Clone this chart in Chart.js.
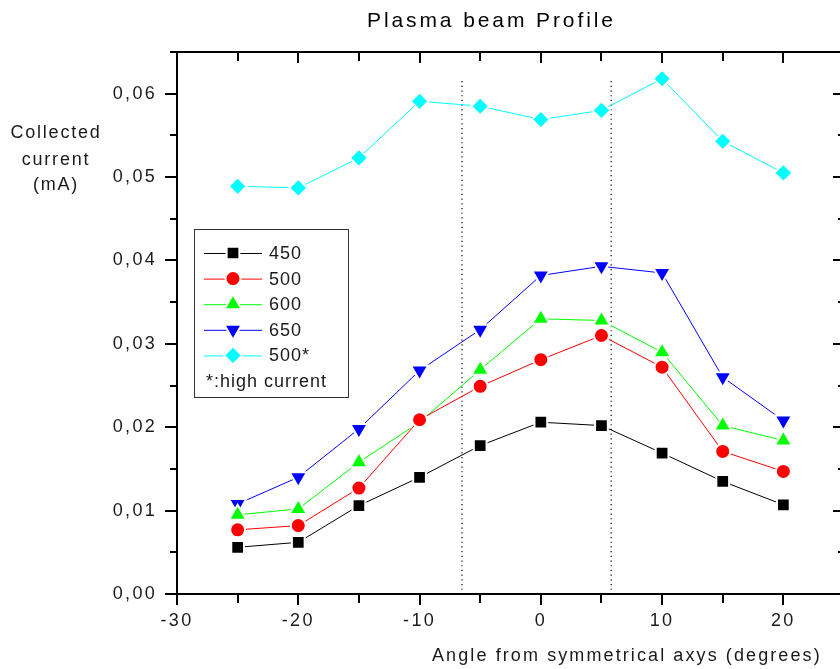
<!DOCTYPE html>
<html>
<head>
<meta charset="utf-8">
<script src="https://cdn.jsdelivr.net/npm/chart.js@4.4.1/dist/chart.umd.min.js"></script>
<style>
  html, body { margin: 0; padding: 0; background: #fff; overflow: hidden; }
  #wrap { width: 860px; height: 669px; }
</style>
</head>
<body>
<div id="wrap"><canvas id="chartPerfil" width="860" height="669"></canvas></div>
<script>
/* ---------- datos ---------- */
const angulos = [-25, -20, -15, -10, -5, 0, 5, 10, 15, 20];
const serie450 = [0.0056, 0.0062, 0.0106, 0.0140, 0.0178, 0.0206, 0.0202, 0.0169, 0.0135, 0.0107];
const serie500 = [0.0077, 0.0082, 0.0127, 0.0209, 0.0249, 0.0281, 0.0310, 0.0272, 0.0171, 0.0147];
const serie600 = [0.0095, 0.0102, 0.0158, 0.0206, 0.0269, 0.0330, 0.0328, 0.0290, 0.0202, 0.0184];
const serie650 = [0.0108, 0.0140, 0.0198, 0.0268, 0.0317, 0.0382, 0.0393, 0.0385, 0.0260, 0.0208];
const serie500hc = [0.0489, 0.0487, 0.0523, 0.0591, 0.0585, 0.0569, 0.0580, 0.0618, 0.0543, 0.0505];
const lineasPunteadas = [-6.5, 5.8];
const rangoPunteado = [0.0005, 0.0619];
const etiquetas = ["450", "500", "600", "650", "500*"];
const notaLeyenda = "*:high current";

const FUENTE = "'Liberation Sans', Arial, sans-serif";

function puntos(ys) {
    return angulos.map((a, i) => ({ x: a, y: ys[i] }));
}

function serie(label, ys, color, estilo, radio, rot) {
    return {
        label: label,
        data: puntos(ys),
        borderColor: color,
        backgroundColor: color,
        borderWidth: 1,
        pointStyle: estilo,
        pointRadius: radio,
        pointHoverRadius: radio,
        pointRotation: rot || 0,
        pointBackgroundColor: color,
        pointBorderColor: "#ffffff",
        pointBorderWidth: 2,
        tension: 0
    };
}

const datasets = [
    serie(etiquetas[0], serie450, "#000000", "rect", 9),
    serie(etiquetas[1], serie500, "#ff0000", "circle", 7.5),
    serie(etiquetas[2], serie600, "#00ff00", "triangle", 10),
    serie(etiquetas[3], serie650, "#0000ff", "triangle", 10, 180),
    serie(etiquetas[4], serie500hc, "#00ffff", "rectRot", 9)
];

lineasPunteadas.forEach(xv => {
    datasets.push({
        label: "",
        data: [{ x: xv, y: rangoPunteado[0] }, { x: xv, y: rangoPunteado[1] }],
        borderColor: "#000000",
        borderWidth: 1.2,
        borderDash: [1.2, 3.5],
        pointRadius: 0,
        pointHoverRadius: 0
    });
});

/* ---------- marco, ticks, textos y leyenda ---------- */
const espaciadoPlugin = {
    id: "espaciado",
    beforeDraw(chart) { chart.ctx.letterSpacing = "2.3px"; }
};

const marcoPlugin = {
    id: "marco",
    afterDraw(chart) {
        const ctx = chart.ctx;
        const a = chart.chartArea;
        const sx = chart.scales.x, sy = chart.scales.y;
        ctx.save();
        ctx.strokeStyle = "#000";
        ctx.lineWidth = 2;
        ctx.strokeRect(a.left, a.top, a.right - a.left, a.bottom - a.top);

        // ticks eje x
        for (let v = -30; v <= 25; v += 5) {
            const px = Math.round(sx.getPixelForValue(v));
            const len = (v % 10 === 0) ? 11 : 9;
            ctx.beginPath();
            ctx.moveTo(px, a.bottom); ctx.lineTo(px, a.bottom + len);
            ctx.moveTo(px, a.top); ctx.lineTo(px, a.top + len);
            ctx.stroke();
        }
        // ticks eje y
        for (let k = 0; k <= 13; k++) {
            const py = Math.round(sy.getPixelForValue(k * 0.005));
            const major = k % 2 === 0;
            ctx.beginPath();
            ctx.moveTo(a.left, py); ctx.lineTo(a.left - (major ? 12 : 7), py);
            ctx.moveTo(a.right, py); ctx.lineTo(a.right - (major ? 11 : 6), py);
            ctx.stroke();
        }

        // titulos
        ctx.fillStyle = "#000";
        ctx.font = "21px " + FUENTE;
        ctx.letterSpacing = "2.9px";
        ctx.textAlign = "left";
        ctx.textBaseline = "alphabetic";
        ctx.fillText("Plasma beam Profile", 367, 27);

        ctx.fillStyle = "#1a1a1a";
        ctx.font = "18px " + FUENTE;
        ctx.letterSpacing = "1.8px";
        ctx.textAlign = "center";
        ctx.fillText("Collected", 56, 138);
        ctx.fillText("current", 56, 165);
        ctx.fillText("(mA)", 56, 190);

        ctx.letterSpacing = "2.1px";
        ctx.textAlign = "left";
        ctx.fillText("Angle from symmetrical axys (degrees)", 432, 661);

        // leyenda
        const lx = 194, ly = 229, lw = 154, lh = 168;
        ctx.fillStyle = "#fff";
        ctx.fillRect(lx, ly, lw, lh);
        ctx.strokeStyle = "#333";
        ctx.lineWidth = 1;
        ctx.strokeRect(lx + 0.5, ly + 0.5, lw, lh);
        ctx.textAlign = "left";
        ctx.textBaseline = "middle";
        ctx.font = "18px " + FUENTE;
        ctx.letterSpacing = "1px";
        for (let i = 0; i < 5; i++) {
            const ds = chart.data.datasets[i];
            const yy = 253 + i * 25.6;
            ctx.strokeStyle = ds.borderColor;
            ctx.beginPath();
            ctx.moveTo(204, yy + 0.5); ctx.lineTo(262, yy + 0.5);
            ctx.stroke();
            ctx.fillStyle = ds.borderColor;
            ctx.strokeStyle = "#fff";
            ctx.lineWidth = 2;
            Chart.helpers.drawPoint(ctx, {
                pointStyle: ds.pointStyle,
                radius: ds.pointRadius,
                rotation: ds.pointRotation,
                borderWidth: 2
            }, 233, yy);
            ctx.lineWidth = 1;
            ctx.fillStyle = "#1a1a1a";
            ctx.fillText(ds.label, 269, yy + 1);
        }
        ctx.fillText(notaLeyenda, 206, 382);
        ctx.restore();
    }
};

const fmtComa = v => v.toFixed(2).replace(".", ",");

new Chart(document.getElementById("chartPerfil"), {
    type: "line",
    data: { datasets: datasets },
    options: {
        responsive: false,
        animation: false,
        layout: { padding: { top: 52, right: 2, left: 0, bottom: 0 } },
        plugins: {
            legend: { display: false },
            tooltip: { enabled: false }
        },
        scales: {
            x: {
                type: "linear",
                min: -30,
                max: 25,
                grid: { display: false, drawTicks: false },
                border: { display: false },
                ticks: {
                    stepSize: 10,
                    padding: 16,
                    color: "#1a1a1a",
                    font: { family: FUENTE, size: 18 },
                    callback: v => (v % 10 === 0 ? String(v) : "")
                },
                afterFit: s => { s.height = 75; }
            },
            y: {
                type: "linear",
                min: 0,
                max: 0.065,
                grid: { display: false, drawTicks: false },
                border: { display: false },
                ticks: {
                    stepSize: 0.01,
                    padding: 20,
                    color: "#1a1a1a",
                    font: { family: FUENTE, size: 18 },
                    callback: v => {
                        const r = Math.round(v * 1000) / 1000;
                        return (Math.round(r * 1000) % 10 === 0) ? fmtComa(r) : "";
                    }
                },
                afterFit: s => { s.width = 177; }
            }
        }
    },
    plugins: [espaciadoPlugin, marcoPlugin]
});
</script>
</body>
</html>
